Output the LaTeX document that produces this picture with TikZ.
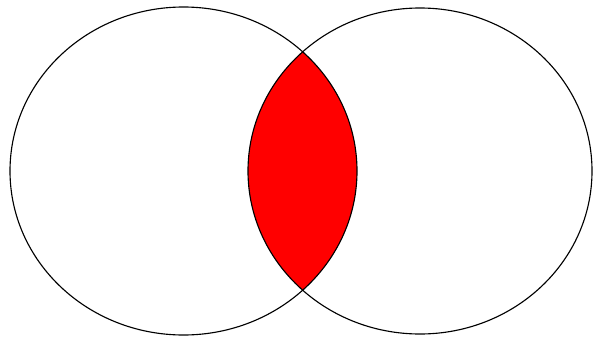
\documentclass[tikz,border=0pt]{standalone}
\usepackage{tikz}
\definecolor{lensRed}{RGB}{255, 0, 0}

\begin{document}
\begin{tikzpicture}[x=0.05cm, y=-0.05cm, line width=1.6pt,
  setline/.style={draw=black}]

  \useasboundingbox (0,0) rectangle (594,338);

  % overlap of the two sets
  \begin{scope}
    \clip (183.5,171) ellipse [x radius=173.5, y radius=164];
    \fill[lensRed] (420,171) ellipse [x radius=172, y radius=163];
  \end{scope}

  \draw[setline] (183.5,171) ellipse [x radius=173.5, y radius=164];
  \draw[setline] (420,171)   ellipse [x radius=172, y radius=163];

\end{tikzpicture}
\end{document}
